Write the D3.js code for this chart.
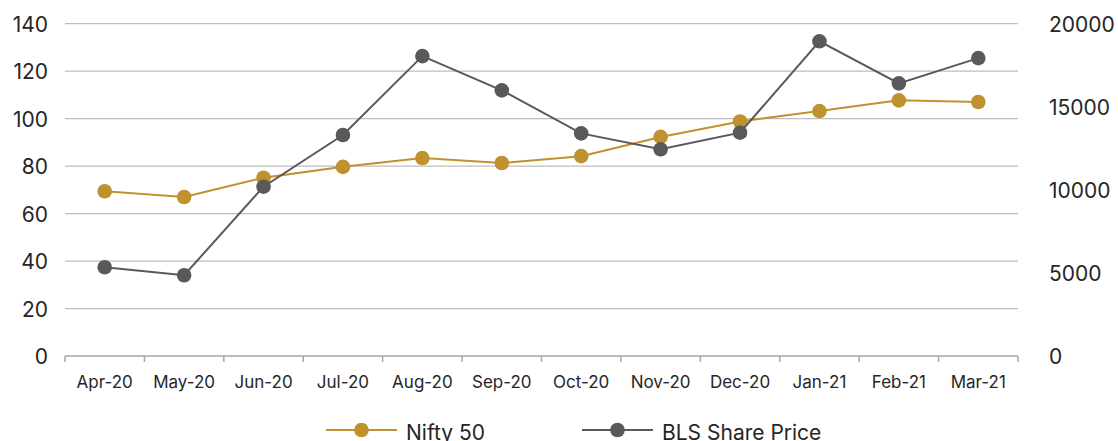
<!DOCTYPE html>
<html>
<head>
<meta charset="utf-8">
<script src="https://cdn.jsdelivr.net/npm/d3@7"></script>
<style>
  body { margin: 0; background: #fff; }
  text { font-family: Inter, "Noto Sans", sans-serif; fill: #262626; }
</style>
</head>
<body>
<script>
var months = ["Apr-20", "May-20", "Jun-20", "Jul-20", "Aug-20", "Sep-20",
  "Oct-20", "Nov-20", "Dec-20", "Jan-21", "Feb-21", "Mar-21"];
var nifty = [69.4, 67.0, 75.1, 79.7, 83.4, 81.3, 84.2, 92.3, 98.8, 103.2, 107.7, 107.0];
var bls = [5340, 4860, 10190, 13300, 18050, 15990, 13400, 12440, 13440, 18940, 16410, 17930];
var leftTicks = [0, 20, 40, 60, 80, 100, 120, 140];
var rightTicks = [0, 5000, 10000, 15000, 20000];

var gold = "#c0912f", grey = "#58595b";

var width = 1118, height = 441;
var plotLeft = 65, plotRight = 1018, plotTop = 23.7, plotBottom = 356;

var svg = d3.select("body").append("svg")
  .attr("width", width)
  .attr("height", height);

var x = d3.scaleBand().domain(months).range([plotLeft, plotRight]);
var y = d3.scaleLinear().domain([0, 140]).range([plotBottom, plotTop]);
var y2 = d3.scaleLinear().domain([0, 20000]).range([plotBottom, plotTop]);

// grid lines
svg.append("g")
  .selectAll("line")
  .data(leftTicks.slice(1))
  .enter().append("line")
  .attr("x1", plotLeft).attr("x2", plotRight)
  .attr("y1", function(d) { return y(d); })
  .attr("y2", function(d) { return y(d); })
  .attr("stroke", "#bdbdbd")
  .attr("stroke-width", 1.2);

// left axis labels
svg.append("g")
  .selectAll("text")
  .data(leftTicks)
  .enter().append("text")
  .attr("x", 48)
  .attr("y", function(d) { return y(d) + 8; })
  .attr("text-anchor", "end")
  .style("font-size", "21px")
  .text(function(d) { return d; });

// right axis labels
svg.append("g")
  .selectAll("text")
  .data(rightTicks)
  .enter().append("text")
  .attr("x", 1049)
  .attr("y", function(d) { return y2(d) + 8; })
  .attr("text-anchor", "start")
  .style("font-size", "21px")
  .text(function(d) { return d; });

// x axis
var xAxis = svg.append("g")
  .attr("transform", "translate(0," + plotBottom + ")")
  .call(d3.axisBottom(x).tickSize(0).tickPadding(20));
xAxis.select(".domain").remove();
xAxis.selectAll("text")
  .style("font-size", "17px")
  .style("font-family", "Inter, sans-serif")
  .attr("fill", "#262626");

svg.append("line")
  .attr("x1", plotLeft).attr("x2", plotRight)
  .attr("y1", plotBottom).attr("y2", plotBottom)
  .attr("stroke", "#a6a6a6").attr("stroke-width", 1.5);

var edges = months.map(function(m) { return x(m); }).concat([plotRight]);
svg.append("g")
  .selectAll("line")
  .data(edges)
  .enter().append("line")
  .attr("x1", function(d) { return d; })
  .attr("x2", function(d) { return d; })
  .attr("y1", plotBottom).attr("y2", plotBottom + 6)
  .attr("stroke", "#a6a6a6").attr("stroke-width", 1.5);

function cx(d, i) { return x(months[i]) + x.bandwidth() / 2; }

var lineN = d3.line().x(cx).y(function(d) { return y(d); });
var lineB = d3.line().x(cx).y(function(d) { return y2(d); });

svg.append("path")
  .datum(nifty)
  .attr("d", lineN)
  .attr("fill", "none")
  .attr("stroke", gold)
  .attr("stroke-width", 2);

svg.append("g")
  .selectAll("circle")
  .data(nifty)
  .enter().append("circle")
  .attr("cx", cx)
  .attr("cy", function(d) { return y(d); })
  .attr("r", 7.3)
  .attr("fill", gold);

svg.append("path")
  .datum(bls)
  .attr("d", lineB)
  .attr("fill", "none")
  .attr("stroke", grey)
  .attr("stroke-width", 2);

svg.append("g")
  .selectAll("circle")
  .data(bls)
  .enter().append("circle")
  .attr("cx", cx)
  .attr("cy", function(d) { return y2(d); })
  .attr("r", 7.3)
  .attr("fill", grey);

// legend
var legend = [
  { name: "Nifty 50", color: gold, x: 326 },
  { name: "BLS Share Price", color: grey, x: 582 }
];
var lg = svg.append("g")
  .selectAll("g")
  .data(legend)
  .enter().append("g")
  .attr("transform", function(d) { return "translate(" + d.x + ",430)"; });
lg.append("line")
  .attr("x1", 0).attr("x2", 71)
  .attr("stroke", function(d) { return d.color; })
  .attr("stroke-width", 2);
lg.append("circle")
  .attr("cx", 35.5)
  .attr("r", 7.3)
  .attr("fill", function(d) { return d.color; });
lg.append("text")
  .attr("x", 80)
  .attr("y", 10)
  .style("font-size", "21px")
  .text(function(d) { return d.name; });
</script>
</body>
</html>
